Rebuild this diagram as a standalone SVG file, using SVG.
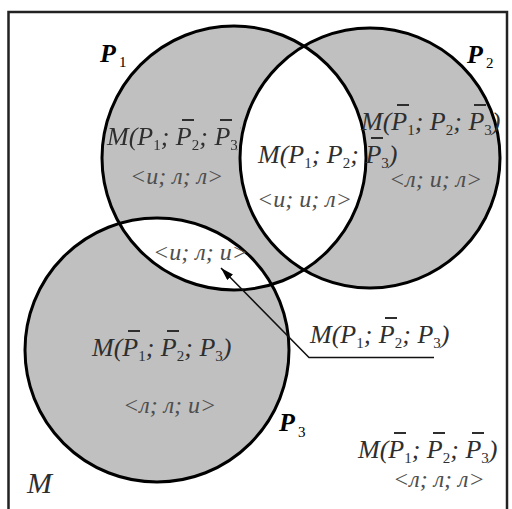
<svg xmlns="http://www.w3.org/2000/svg" width="512" height="509" viewBox="0 0 512 509">
<style>
.gray{fill:#c0c0c0}
.white{fill:#fff}
.ring{fill:none;stroke:#000;stroke-width:3}
.ex{font-family:"Liberation Serif","Times New Roman",serif;font-style:italic;font-size:26px;fill:#2e2e2e}
.sub{font-style:normal;font-size:15px}
.tv{font-family:"Liberation Serif","Times New Roman",serif;font-style:italic;font-size:24px;fill:#4e4e4e}
.lbl{font-family:"Liberation Serif","Times New Roman",serif;font-style:italic;font-weight:bold;font-size:26px;fill:#000}
.lsub{font-family:"Liberation Serif","Times New Roman",serif;font-style:normal;font-weight:normal;font-size:15px;fill:#000}
.bar{stroke:#2e2e2e;stroke-width:2}
.lead{fill:none;stroke:#111;stroke-width:1.5}
</style>
<defs>
<clipPath id="inP1"><circle cx="234" cy="158" r="132"/></clipPath>
<mask id="outP2" maskUnits="userSpaceOnUse" x="0" y="0" width="512" height="509">
<rect width="512" height="509" fill="#fff"/>
<circle cx="370" cy="158" r="133" fill="#000"/>
</mask>
<marker id="arr" viewBox="0 0 13 8" refX="13" refY="4" markerWidth="13" markerHeight="8" orient="auto" markerUnits="userSpaceOnUse">
<path d="M0,0 L13,4 L0,8 z" fill="#000"/>
</marker>
</defs>
<rect width="512" height="509" fill="#fff"/>

<g id="sets">
<circle class="gray" cx="234" cy="158" r="132"/>
<circle class="gray" cx="370" cy="158" r="130"/>
<circle class="gray" cx="157" cy="350" r="132"/>
<circle class="white" cx="370" cy="158" r="130" clip-path="url(#inP1)"/>
<circle class="white" cx="157" cy="350" r="132" clip-path="url(#inP1)"/>
<circle class="ring" cx="234" cy="158" r="132"/>
<circle class="ring" cx="370" cy="158" r="130"/>
<circle class="ring" cx="157" cy="350" r="132"/>
</g>

<g id="node-M">
<rect x="8.5" y="12" width="498.5" height="510" fill="none" stroke="#222" stroke-width="2.5"/>
<text x="27" y="493" font-family="Liberation Serif, Times New Roman, serif" font-style="italic" font-size="30" fill="#2e2e2e">M</text>
</g>

<g id="node-P1">
<text class="lbl" x="100" y="62">P</text><text class="lsub" x="119" y="67">1</text>
<g mask="url(#outP2)">
<text class="ex"><tspan x="107" y="145">M(P</tspan><tspan class="sub" y="150">1</tspan><tspan y="145">; P</tspan><tspan class="sub" y="150">2</tspan><tspan y="145">; P</tspan><tspan class="sub" y="150">3</tspan><tspan y="145">)</tspan></text>
<line class="bar" x1="182" y1="120" x2="194" y2="120"/>
<line class="bar" x1="220" y1="120" x2="232" y2="120"/>
</g>
<text class="tv" x="130" y="184">&lt;и; л; л&gt;</text>
</g>

<g id="node-P2">
<text class="lbl" x="467" y="63">P</text><text class="lsub" x="486" y="68">2</text>
<text class="ex"><tspan x="361" y="130">M(P</tspan><tspan class="sub" y="135">1</tspan><tspan y="130">; P</tspan><tspan class="sub" y="135">2</tspan><tspan y="130">; P</tspan><tspan class="sub" y="135">3</tspan><tspan y="130">)</tspan></text>
<line class="bar" x1="397" y1="105" x2="409" y2="105"/>
<line class="bar" x1="474" y1="105" x2="486" y2="105"/>
<text class="tv" x="389" y="187">&lt;л; и; л&gt;</text>
</g>

<g id="node-P1P2">
<text class="ex"><tspan x="258" y="163">M(P</tspan><tspan class="sub" y="168">1</tspan><tspan y="163">; P</tspan><tspan class="sub" y="168">2</tspan><tspan y="163">; P</tspan><tspan class="sub" y="168">3</tspan><tspan y="163">)</tspan></text>
<line class="bar" x1="371" y1="138" x2="383" y2="138"/>
<text class="tv" x="257" y="207">&lt;и; и; л&gt;</text>
</g>

<g id="node-P1P3">
<text class="tv" x="153" y="260">&lt;и; л; и&gt;</text>
</g>

<g id="node-P3">
<text class="lbl" x="279" y="431">P</text><text class="lsub" x="298" y="437">3</text>
<text class="ex"><tspan x="92" y="356">M(P</tspan><tspan class="sub" y="361">1</tspan><tspan y="356">; P</tspan><tspan class="sub" y="361">2</tspan><tspan y="356">; P</tspan><tspan class="sub" y="361">3</tspan><tspan y="356">)</tspan></text>
<line class="bar" x1="128" y1="331" x2="140" y2="331"/>
<line class="bar" x1="167" y1="331" x2="179" y2="331"/>
<text class="tv" x="123" y="413">&lt;л; л; и&gt;</text>
</g>

<g id="node-callout">
<text class="ex"><tspan x="310" y="343">M(P</tspan><tspan class="sub" y="348">1</tspan><tspan y="343">; P</tspan><tspan class="sub" y="348">2</tspan><tspan y="343">; P</tspan><tspan class="sub" y="348">3</tspan><tspan y="343">)</tspan></text>
<line class="bar" x1="385" y1="318" x2="397" y2="318"/>
</g>

<g id="node-none">
<text class="ex"><tspan x="358" y="458">M(P</tspan><tspan class="sub" y="463">1</tspan><tspan y="458">; P</tspan><tspan class="sub" y="463">2</tspan><tspan y="458">; P</tspan><tspan class="sub" y="463">3</tspan><tspan y="458">)</tspan></text>
<line class="bar" x1="394" y1="433" x2="406" y2="433"/>
<line class="bar" x1="433" y1="433" x2="445" y2="433"/>
<line class="bar" x1="472" y1="433" x2="484" y2="433"/>
<text class="tv" x="393" y="487">&lt;л; л; л&gt;</text>
</g>

<g id="connectors">
<polyline class="lead" points="434,357.5 309,357.5 221,268" marker-end="url(#arr)"/>
</g>
</svg>
